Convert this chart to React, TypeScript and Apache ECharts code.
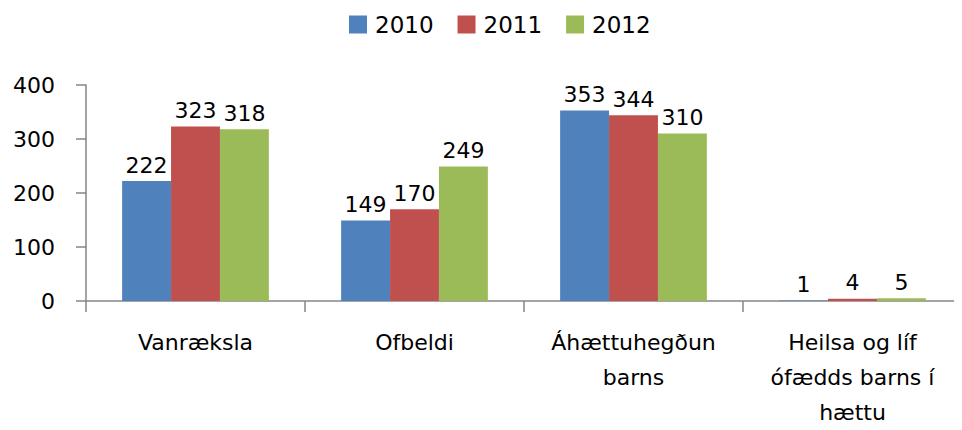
import React, { useEffect, useRef } from "react";
import * as echarts from "echarts";

const categories = [
  "Vanræksla",
  "Ofbeldi",
  "Áhættuhegðun\nbarns",
  "Heilsa og líf\nófædds barns í\nhættu",
];
const seriesNames = ["2010", "2011", "2012"];
const values2010 = [222, 149, 353, 1];
const values2011 = [323, 170, 344, 4];
const values2012 = [318, 249, 310, 5];
const colors = ["#4F81BD", "#C0504D", "#9BBB59"];
const yTicks = [0, 100, 200, 300, 400];

const FONT = "DejaVu Sans";

export default function App() {
  const ref = useRef<HTMLDivElement>(null);
  useEffect(() => {
    if (!ref.current) return;
    const chart = echarts.init(ref.current, undefined, { renderer: "svg" });
    const data = [values2010, values2011, values2012];
    chart.setOption({
      animation: false,
      textStyle: { fontFamily: FONT },
      legend: {
        top: 8,
        left: 344,
        itemWidth: 18,
        itemHeight: 18,
        itemGap: 24,
        icon: "rect",
        textStyle: { fontFamily: FONT, fontSize: 23, color: "#000", padding: [0, 0, 0, 3] },
        data: seriesNames,
      },
      grid: { left: 86, right: -8, top: 85, bottom: 129, containLabel: false },
      xAxis: {
        type: "category",
        data: categories,
        axisLine: { lineStyle: { color: "#868686", width: 1.5 } },
        axisTick: { show: true, length: 11, lineStyle: { color: "#868686", width: 1.5 } },
        axisLabel: {
          fontFamily: FONT,
          fontSize: 22,
          color: "#000",
          lineHeight: 35,
          margin: 24,
          interval: 0,
        },
      },
      yAxis: {
        type: "value",
        min: yTicks[0],
        max: yTicks[yTicks.length - 1],
        interval: 100,
        splitLine: { show: false },
        axisLine: { show: true, lineStyle: { color: "#868686", width: 1.5 } },
        axisTick: { show: true, length: 10, lineStyle: { color: "#868686", width: 1.5 } },
        axisLabel: {
          fontFamily: FONT,
          fontSize: 22,
          color: "#000",
          margin: 31,
        },
      },
      series: seriesNames.map((name, i) => ({
        name,
        type: "bar",
        data: data[i],
        barGap: "0%",
        barCategoryGap: "33%",
        itemStyle: { color: colors[i] },
        label: {
          show: true,
          position: "top",
          distance: 5,
          fontFamily: FONT,
          fontSize: 22,
          color: "#000",
        },
      })),
    });
    return () => chart.dispose();
  }, []);
  return <div ref={ref} style={{ width: 962, height: 430, margin: -8 }} />;
}
